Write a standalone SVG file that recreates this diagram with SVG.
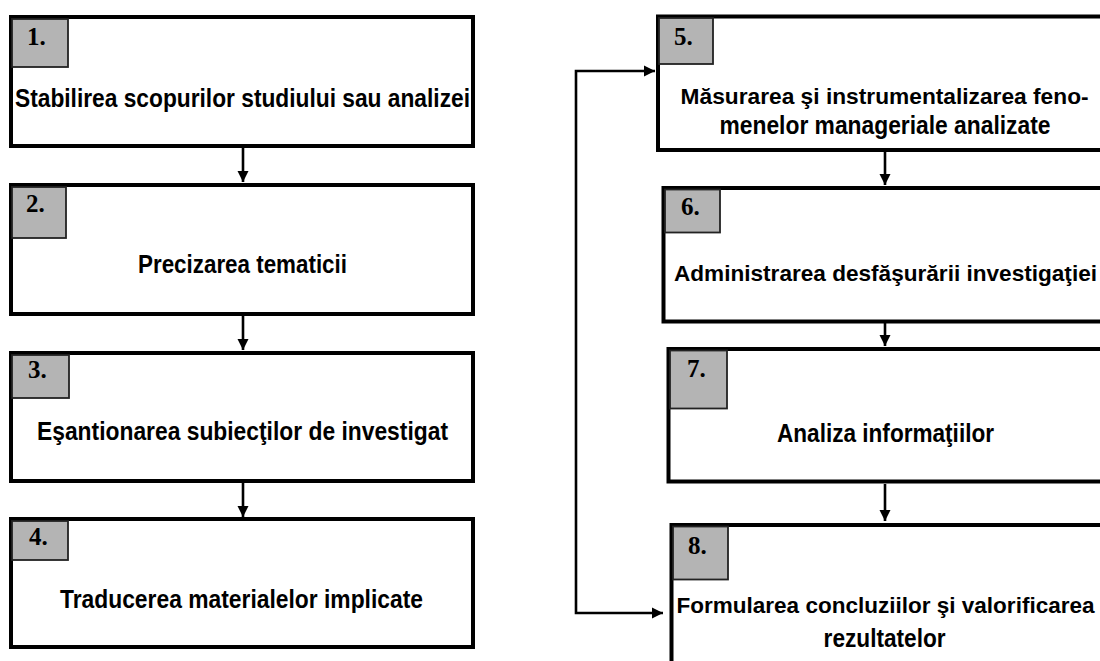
<svg xmlns="http://www.w3.org/2000/svg" width="1100" height="661" viewBox="0 0 1100 661">
<defs>
<style>
.box{fill:#fff;stroke:#000;stroke-width:4}
.tag{fill:#b4b4b4;stroke:#222;stroke-width:1.8}
.num{font-family:"Liberation Serif",serif;font-weight:bold;font-size:25px;fill:#000}
.lbl{font-family:"Liberation Sans",Arial,sans-serif;font-weight:bold;font-size:25px;fill:#000}
.sm{font-size:22.5px}
.c{text-anchor:middle}
.con{fill:none;stroke:#000;stroke-width:2.6}
</style>
<marker id="ah" viewBox="0 0 10 10" refX="10" refY="5" markerWidth="4.4" markerHeight="4.4" orient="auto-start-reverse" markerUnits="strokeWidth">
<path d="M0,0 L10,5 L0,10 z" fill="#000"/>
</marker>
</defs>
<rect width="1100" height="661" fill="#fff"/>

<g id="connectors">
<line class="con" x1="243" y1="148" x2="243" y2="182" marker-end="url(#ah)"/>
<line class="con" x1="243" y1="316" x2="243" y2="350" marker-end="url(#ah)"/>
<line class="con" x1="243" y1="483" x2="243" y2="517" marker-end="url(#ah)"/>
<line class="con" x1="885" y1="152" x2="885" y2="185" marker-end="url(#ah)"/>
<line class="con" x1="885" y1="323" x2="885" y2="346" marker-end="url(#ah)"/>
<line class="con" x1="885" y1="484" x2="885" y2="521" marker-end="url(#ah)"/>
<path class="con" d="M655,71 L576,71 L576,613 L663,613" marker-start="url(#ah)" marker-end="url(#ah)"/>
</g>

<g id="n1">
<rect class="box" x="11" y="17" width="462" height="129"/>
<rect class="tag" x="12" y="19" width="56" height="48"/>
<text class="num" x="27" y="45">1.</text>
<text class="lbl c" x="242.5" y="107" textLength="455" lengthAdjust="spacingAndGlyphs">Stabilirea scopurilor studiului sau analizei</text>
</g>
<g id="n2">
<rect class="box" x="11" y="185" width="462" height="129"/>
<rect class="tag" x="12" y="187" width="54" height="51"/>
<text class="num" x="26" y="212">2.</text>
<text class="lbl c" x="242.5" y="273" textLength="209" lengthAdjust="spacingAndGlyphs">Precizarea tematicii</text>
</g>
<g id="n3">
<rect class="box" x="11" y="353" width="462" height="128"/>
<rect class="tag" x="12" y="355" width="57" height="43"/>
<text class="num" x="28" y="378">3.</text>
<text class="lbl c" x="242.5" y="440" textLength="411" lengthAdjust="spacingAndGlyphs">Eşantionarea subiecţilor de investigat</text>
</g>
<g id="n4">
<rect class="box" x="11" y="519" width="462" height="128"/>
<rect class="tag" x="12" y="521" width="56" height="39"/>
<text class="num" x="29" y="545">4.</text>
<text class="lbl c" x="241.5" y="608" textLength="363" lengthAdjust="spacingAndGlyphs">Traducerea materialelor implicate</text>
</g>
<g id="n5">
<rect class="box" x="658" y="16.5" width="460" height="133.5"/>
<rect class="tag" x="659" y="18" width="54" height="46"/>
<text class="num" x="674" y="45">5.</text>
<text class="lbl sm c" x="884.6" y="104" textLength="408" lengthAdjust="spacingAndGlyphs">Măsurarea şi instrumentalizarea feno-</text>
<text class="lbl c" x="885" y="133.5" textLength="331" lengthAdjust="spacingAndGlyphs">menelor manageriale analizate</text>
</g>
<g id="n6">
<rect class="box" x="663.5" y="188" width="460" height="133.5"/>
<rect class="tag" x="665" y="189.5" width="55" height="43"/>
<text class="num" x="681" y="215">6.</text>
<text class="lbl sm" x="674" y="280.5" textLength="423" lengthAdjust="spacingAndGlyphs">Administrarea desfăşurării investigaţiei</text>
</g>
<g id="n7">
<rect class="box" x="668.5" y="349" width="460" height="132.5"/>
<rect class="tag" x="670" y="350.5" width="57" height="58"/>
<text class="num" x="687" y="376.5">7.</text>
<text class="lbl c" x="885.5" y="442" textLength="217" lengthAdjust="spacingAndGlyphs">Analiza informaţiilor</text>
</g>
<g id="n8">
<rect class="box" x="671.5" y="525" width="460" height="160"/>
<rect class="tag" x="673" y="526.5" width="55" height="53"/>
<text class="num" x="688" y="554">8.</text>
<text class="lbl sm" x="676.5" y="612.5" textLength="418" lengthAdjust="spacingAndGlyphs">Formularea concluziilor şi valorificarea</text>
<text class="lbl c" x="884.6" y="647" textLength="122" lengthAdjust="spacingAndGlyphs">rezultatelor</text>
</g>
</svg>
